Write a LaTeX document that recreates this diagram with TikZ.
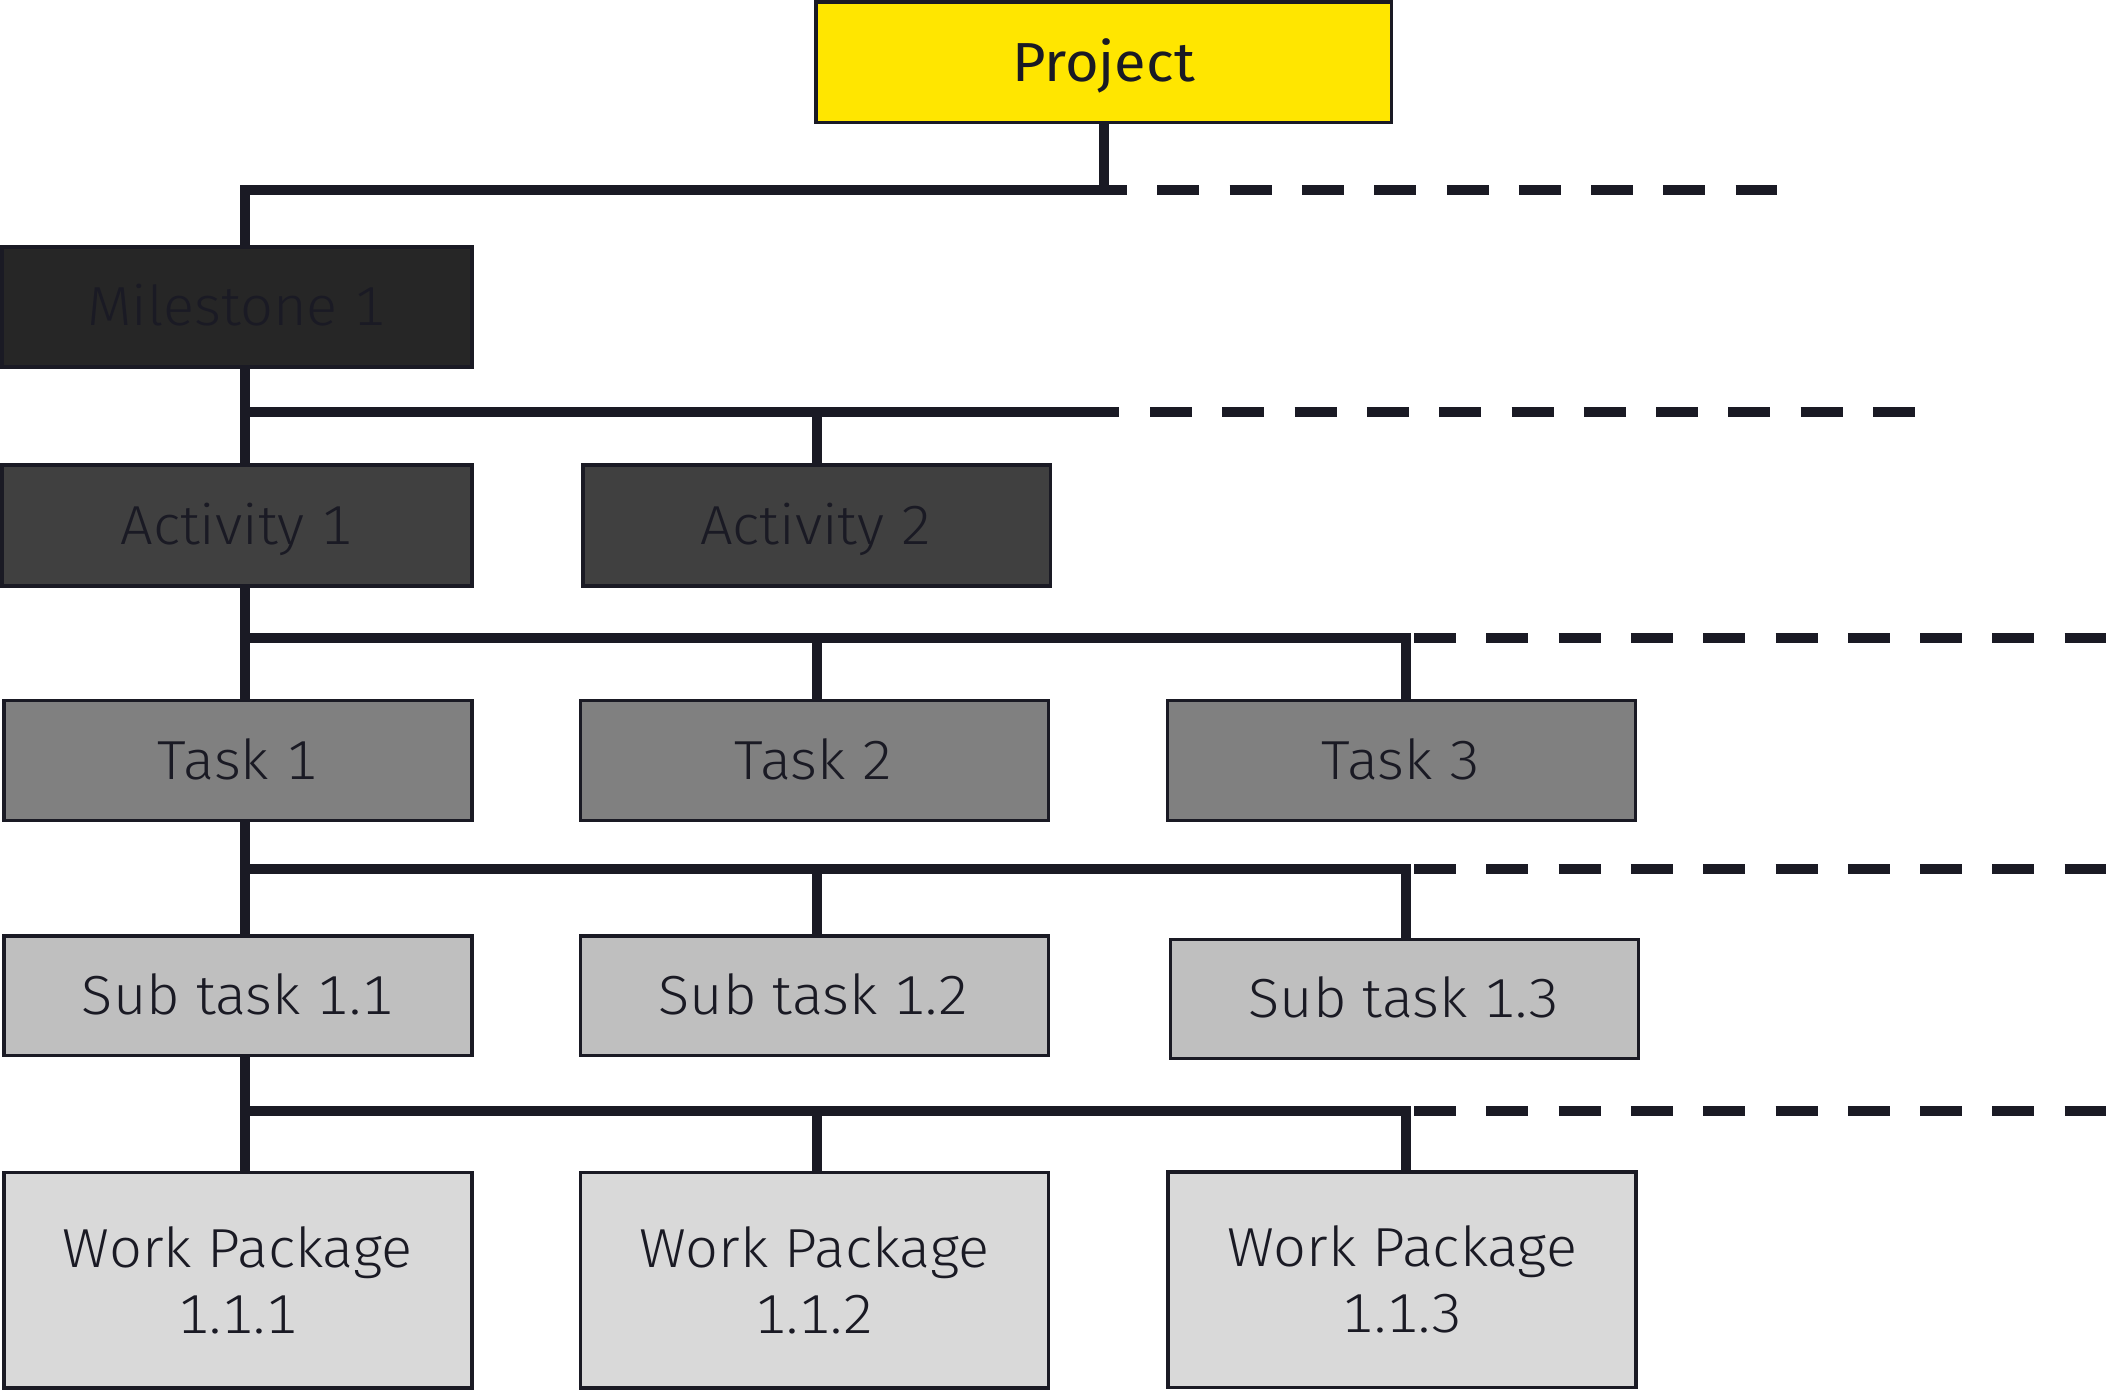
\documentclass[tikz,border=0pt]{standalone}
\usepackage{fontspec}
\setmainfont{Fira Sans Light}[FakeStretch=1.05, Numbers=Monospaced]
\newfontfamily\projfont{Fira Sans}[FakeStretch=1.05]
\definecolor{eydark}{HTML}{1A1A24}
\definecolor{eyyellow}{HTML}{FFE600}
\definecolor{msfill}{HTML}{262626}
\definecolor{actfill}{HTML}{404040}
\definecolor{taskfill}{HTML}{808080}
\definecolor{subfill}{HTML}{BFBFBF}
\definecolor{wpfill}{HTML}{D9D9D9}
\begin{document}
\begin{tikzpicture}[x=1pt,y=-1pt,
  box/.style={draw=eydark, line width=3.5pt, rectangle, inner sep=0pt,
    minimum width=468pt, minimum height=120pt, text=eydark,
    font=\fontsize{55}{66}\selectfont, text height=38pt, text depth=0pt},
  wpbox/.style={draw=eydark, line width=3.5pt, rectangle, inner sep=0pt,
    minimum width=468pt, minimum height=215.5pt, text=eydark, fill=wpfill,
    align=center, font=\fontsize{55}{66}\selectfont},
  conn/.style={draw=eydark, line width=10pt},
  dashline/.style={draw=eydark, line width=10pt, dash pattern=on 42pt off 30.3pt}]
\useasboundingbox (0,0) rectangle (2106,1390);

% nodes
\node[box, fill=eyyellow, minimum width=575.5pt, minimum height=120.5pt, font=\fontsize{55}{66}\projfont] (proj) at (1103.5,62) {Project};
\node[box, fill=msfill, minimum width=470pt] (ms) at (236.75,306.75) {Milestone 1};
\node[box, fill=actfill, minimum width=470pt, minimum height=121pt] (a1) at (236.75,525.25) {Activity 1};
\node[box, fill=actfill, minimum width=467.5pt, minimum height=121pt] (a2) at (816.5,525.25) {Activity 2};
\node[box, fill=taskfill] (t1) at (237.75,760.3) {Task 1};
\node[box, fill=taskfill] (t2) at (814.5,760.3) {Task 2};
\node[box, fill=taskfill] (t3) at (1401.5,760.3) {Task 3};
\node[box, fill=subfill, minimum height=119.5pt] (s1) at (237.75,995.5) {Sub task 1.1};
\node[box, fill=subfill, minimum height=119.5pt] (s2) at (814.5,995.5) {Sub task 1.2};
\node[box, fill=subfill, minimum height=119pt] (s3) at (1404.3,998.75) {Sub task 1.3};
\node[wpbox] (w1) at (237.75,1280) {Work Package\\1.1.1};
\node[wpbox] (w2) at (814.5,1280) {Work Package\\1.1.2};
\node[wpbox] (w3) at (1402.2,1279.5) {Work Package\\1.1.3};

% reference coordinates
\coordinate (L) at (244.5,0);
\coordinate (M) at (817,0);
\coordinate (R) at (1406,0);
\coordinate (y1) at (0,189.5);
\coordinate (y2) at (0,412);
\coordinate (y3) at (0,638);
\coordinate (y4) at (0,869);
\coordinate (y5) at (0,1111);
\coordinate (e2) at (1119,412);
\coordinate (d1s) at (1085,189.5);
\coordinate (d1e) at (1777,189.5);
\coordinate (d2s) at (1150,412);
\coordinate (d2e) at (1915,412);
\coordinate (d3s) at (1414,638);
\coordinate (d3e) at (2130,638);
\coordinate (d4s) at (1414,869);
\coordinate (d4e) at (2130,869);
\coordinate (d5s) at (1414,1111);
\coordinate (d5e) at (2130,1111);

% level 1
\draw[conn] (proj.south) -- (proj.south |- y1) -- (L |- y1) -- (L |- ms.north);
\draw[dashline] (d1s) -- (d1e);
% level 2
\draw[conn] (L |- ms.south) -- (L |- a1.north);
\draw[conn] (L |- y2) -- (e2);
\draw[conn] (M |- y2) -- (M |- a2.north);
\draw[dashline] (d2s) -- (d2e);
% level 3
\draw[conn] (L |- a1.south) -- (L |- t1.north);
\draw[conn] (L |- y3) -- (R |- y3) -- (R |- t3.north);
\draw[conn] (M |- y3) -- (M |- t2.north);
\draw[dashline] (d3s) -- (d3e);
% level 4
\draw[conn] (L |- t1.south) -- (L |- s1.north);
\draw[conn] (L |- y4) -- (R |- y4) -- (R |- s3.north);
\draw[conn] (M |- y4) -- (M |- s2.north);
\draw[dashline] (d4s) -- (d4e);
% level 5
\draw[conn] (L |- s1.south) -- (L |- w1.north);
\draw[conn] (L |- y5) -- (R |- y5) -- (R |- w3.north);
\draw[conn] (M |- y5) -- (M |- w2.north);
\draw[dashline] (d5s) -- (d5e);
\end{tikzpicture}
\end{document}
